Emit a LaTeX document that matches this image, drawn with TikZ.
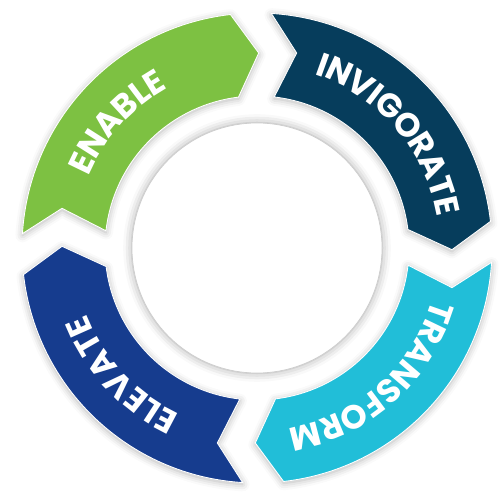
\documentclass[tikz,border=0pt]{standalone}
\usepackage{fontspec}
\usepackage{tikz}
\usetikzlibrary{decorations.text,shadows.blur}
\newfontfamily\ringfont{Poppins}
\definecolor{enablegreen}{RGB}{125,193,66}
\definecolor{invigoratenavy}{RGB}{6,61,92}
\definecolor{transformcyan}{RGB}{33,190,216}
\definecolor{elevateblue}{RGB}{22,60,142}
\definecolor{edgegray}{RGB}{205,205,205}
\tikzset{
  ringseg/.style={draw=white, line width=0.5pt,
    blur shadow={shadow blur radius=4pt, shadow xshift=0pt,
                 shadow yshift=-1pt, shadow opacity=30}},
  ringlabel/.style={decorate, decoration={text effects along path,
    text/.expanded=#1, text effects/.cd, text along path, fit text to path,
    characters={text=white, font=\ringfont\bfseries\fontsize{19}{19}\selectfont}}}
}

\begin{document}
\begin{tikzpicture}
  \useasboundingbox (-5.14,-5.04) rectangle (4.86,4.96);
  \foreach \k/\col in {0/enablegreen,1/invigoratenavy,2/transformcyan,3/elevateblue}
    \draw[ringseg, fill=\col, rotate=-90*\k]
      (176.5:4.7) -- (168.5:3.98) -- (173.5:3.04)
      arc[start angle=173.5, end angle=97, radius=3.04]
      -- (89.5:3.9) -- (96.5:4.7)
      arc[start angle=96.5, end angle=176.5, radius=4.7] -- cycle;
  \draw[draw=edgegray, fill=white,
    blur shadow={shadow blur radius=5pt, shadow xshift=0pt,
                 shadow yshift=0pt, shadow opacity=35}] (0,0) circle[radius=2.5];
  \foreach \mid/\half/\txt in {138/19/ENABLE, 40.8/31/INVIGORATE,
                               -48.3/32/TRANSFORM, -136.9/22/ELEVATE}
    \path[ringlabel=\txt] (\mid+\half:3.66)
      arc[start angle=\mid+\half, end angle=\mid-\half, radius=3.66];
\end{tikzpicture}
\end{document}
